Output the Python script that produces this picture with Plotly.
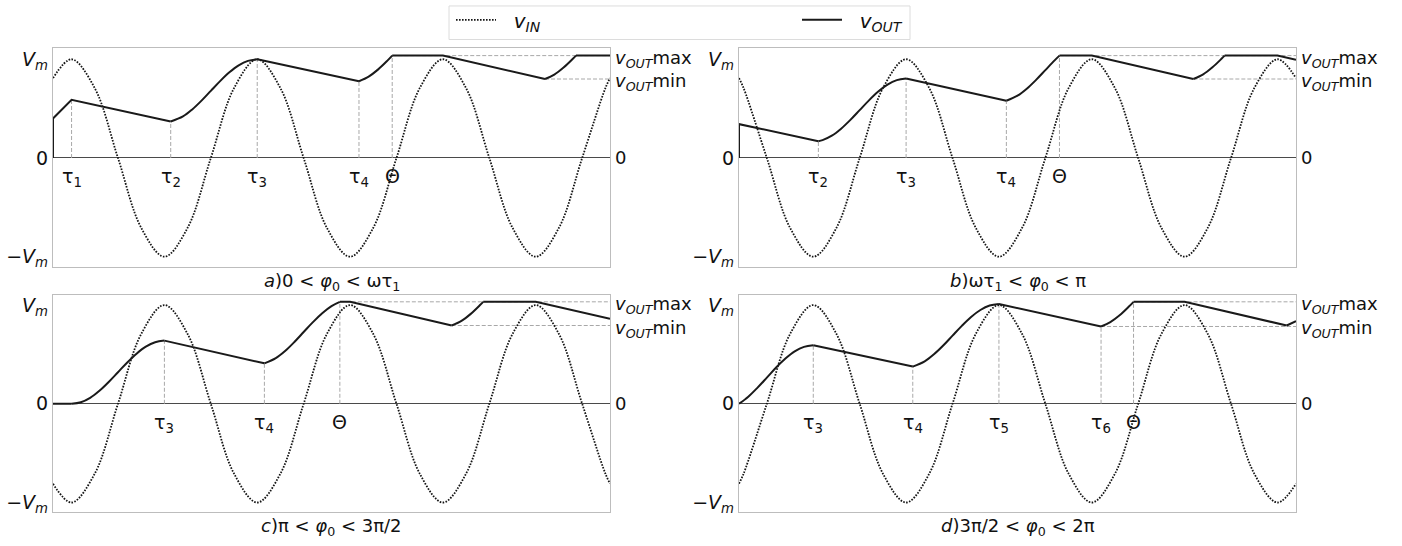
import plotly.graph_objects as go

# x is ωt expressed in units of π rad, y is voltage in units of Vm
X_END = 6.0

# ---------------- v_IN samples (peaks, troughs, zero crossings, half-way points) ----------------
A_IN_X = [0, 0.2, 0.45, 0.7, 0.95, 1.2, 1.45, 1.7, 1.95, 2.2, 2.45, 2.7, 2.95, 3.2, 3.45, 3.7, 3.95,
          4.2, 4.45, 4.7, 4.95, 5.2, 5.45, 5.7, 5.95, 6.0]
A_IN_Y = [0.809, 1, 0.707, 0, -0.707, -1, -0.707, 0, 0.707, 1, 0.707, 0, -0.707, -1, -0.707, 0, 0.707,
          1, 0.707, 0, -0.707, -1, -0.707, 0, 0.707, 0.809]
B_IN_X = [0, 0.05, 0.3, 0.55, 0.8, 1.05, 1.3, 1.55, 1.8, 2.05, 2.3, 2.55, 2.8, 3.05, 3.3, 3.55, 3.8,
          4.05, 4.3, 4.55, 4.8, 5.05, 5.3, 5.55, 5.8, 6.0]
B_IN_Y = [0.809, 0.707, 0, -0.707, -1, -0.707, 0, 0.707, 1, 0.707, 0, -0.707, -1, -0.707, 0, 0.707, 1,
          0.707, 0, -0.707, -1, -0.707, 0, 0.707, 1, 0.809]
C_IN_X = [0, 0.2, 0.45, 0.7, 0.95, 1.2, 1.45, 1.7, 1.95, 2.2, 2.45, 2.7, 2.95, 3.2, 3.45, 3.7, 3.95,
          4.2, 4.45, 4.7, 4.95, 5.2, 5.45, 5.7, 5.95, 6.0]
C_IN_Y = [-0.809, -1, -0.707, 0, 0.707, 1, 0.707, 0, -0.707, -1, -0.707, 0, 0.707, 1, 0.707, 0, -0.707,
          -1, -0.707, 0, 0.707, 1, 0.707, 0, -0.707, -0.809]
D_IN_X = [0, 0.05, 0.3, 0.55, 0.8, 1.05, 1.3, 1.55, 1.8, 2.05, 2.3, 2.55, 2.8, 3.05, 3.3, 3.55, 3.8,
          4.05, 4.3, 4.55, 4.8, 5.05, 5.3, 5.55, 5.8, 6.0]
D_IN_Y = [-0.809, -0.707, 0, 0.707, 1, 0.707, 0, -0.707, -1, -0.707, 0, 0.707, 1, 0.707, 0, -0.707, -1,
          -0.707, 0, 0.707, 1, 0.707, 0, -0.707, -1, -0.809]

# ---------------- v_OUT: straight pieces (decay / flat) ----------------
A_LIN_X = [0, 0, 0.2, 1.268, None, 2.2, 3.296, None, 3.654, 4.2, 5.30, None, 5.633, 6.0]
A_LIN_Y = [0, 0.40, 0.59, 0.37, None, 1.0, 0.777, None, 1.037, 1.037, 0.80, None, 1.037, 1.037]
B_LIN_X = [0, 0, 0.855, None, 1.8, 2.88, None, 3.452, 3.8, 4.894, None, 5.231, 5.8, 6.0]
B_LIN_Y = [0, 0.343, 0.17, None, 0.805, 0.58, None, 1.037, 1.037, 0.80, None, 1.037, 1.037, 0.994]
C_LIN_X = [0, 0.2, None, 1.2, 2.277, None, 3.09, 3.2, 4.295, None, 4.634, 5.2, 6.0]
C_LIN_Y = [0, 0, None, 0.64, 0.41, None, 1.033, 1.033, 0.793, None, 1.033, 1.033, 0.861]
D_LIN_X = [0.8, 1.872, None, 2.8, 3.9, None, 4.25, 4.8, 5.9]
D_LIN_Y = [0.593, 0.377, None, 1.01, 0.783, None, 1.033, 1.033, 0.793]

# ---------------- v_OUT: rising (charging) pieces ----------------
A_RISE_X = [1.268, 1.4, 1.5, 1.6, 1.7, 1.8, 1.9, 2.0, 2.1, 2.2, None,
            3.296, 3.4, 3.5, 3.6, 3.654, None, 5.30, 5.4, 5.5, 5.6, 5.633]
A_RISE_Y = [0.37, 0.421, 0.492, 0.581, 0.68, 0.779, 0.868, 0.939, 0.984, 1.0, None,
            0.777, 0.824, 0.895, 0.984, 1.037, None, 0.80, 0.845, 0.916, 1.005, 1.037]
B_RISE_X = [0.855, 0.9, 1.0, 1.1, 1.2, 1.3, 1.4, 1.5, 1.6, 1.7, 1.8, None,
            2.88, 3.0, 3.1, 3.2, 3.3, 3.4, 3.452, None, 4.894, 5.0, 5.1, 5.2, 5.231]
B_RISE_Y = [0.17, 0.181, 0.226, 0.297, 0.386, 0.485, 0.584, 0.673, 0.744, 0.789, 0.805, None,
            0.58, 0.631, 0.702, 0.791, 0.890, 0.989, 1.037, None, 0.80, 0.847, 0.918, 1.007, 1.037]
C_RISE_X = [0.2, 0.3, 0.4, 0.5, 0.6, 0.7, 0.8, 0.9, 1.0, 1.1, 1.2, None,
            2.277, 2.4, 2.5, 2.6, 2.7, 2.8, 2.9, 3.0, 3.09, None, 4.295, 4.4, 4.5, 4.6, 4.634]
C_RISE_Y = [0, 0.016, 0.061, 0.132, 0.221, 0.32, 0.419, 0.508, 0.579, 0.624, 0.64, None,
            0.41, 0.463, 0.535, 0.626, 0.727, 0.827, 0.918, 0.990, 1.033, None,
            0.793, 0.840, 0.911, 1.0, 1.033]
D_RISE_X = [0, 0.1, 0.2, 0.3, 0.4, 0.5, 0.6, 0.7, 0.8, None,
            1.872, 2.0, 2.1, 2.2, 2.3, 2.4, 2.5, 2.6, 2.7, 2.8, None,
            3.9, 4.0, 4.1, 4.2, 4.25, None, 5.9, 6.0]
D_RISE_Y = [0, 0.072, 0.164, 0.265, 0.367, 0.458, 0.531, 0.577, 0.593, None,
            0.377, 0.430, 0.501, 0.590, 0.690, 0.789, 0.879, 0.950, 0.995, 1.010, None,
            0.783, 0.828, 0.897, 0.985, 1.033, None, 0.793, 0.838]

# ---------------- marked instants (τ, Θ) and their v_OUT values ----------------
A_TAU_X = [0.2, 1.268, 2.2, 3.296, 3.654]
A_TAU_Y = [0.59, 0.37, 1.0, 0.777, 1.037]
A_TAU_TEXT = ["τ<sub>1</sub>", "τ<sub>2</sub>", "τ<sub>3</sub>", "τ<sub>4</sub>", "Θ"]
B_TAU_X = [0.855, 1.8, 2.88, 3.452]
B_TAU_Y = [0.17, 0.805, 0.58, 1.037]
B_TAU_TEXT = ["τ<sub>2</sub>", "τ<sub>3</sub>", "τ<sub>4</sub>", "Θ"]
C_TAU_X = [1.2, 2.277, 3.09]
C_TAU_Y = [0.64, 0.41, 1.033]
C_TAU_TEXT = ["τ<sub>3</sub>", "τ<sub>4</sub>", "Θ"]
D_TAU_X = [0.8, 1.872, 2.8, 3.9, 4.25]
D_TAU_Y = [0.593, 0.377, 1.01, 0.783, 1.033]
D_TAU_TEXT = ["τ<sub>3</sub>", "τ<sub>4</sub>", "τ<sub>5</sub>", "τ<sub>6</sub>", "Θ"]

# v_OUT max / min levels and where their guide lines start
A_VMAX, A_VMAX_X0, A_VMIN, A_VMIN_X0 = 1.037, 3.654, 0.80, 5.30
B_VMAX, B_VMAX_X0, B_VMIN, B_VMIN_X0 = 1.037, 3.452, 0.80, 4.894
C_VMAX, C_VMAX_X0, C_VMIN, C_VMIN_X0 = 1.033, 3.09, 0.793, 4.295
D_VMAX, D_VMAX_X0, D_VMIN, D_VMIN_X0 = 1.033, 4.25, 0.783, 3.9

PANEL_TITLES = [
    "<i>a</i>)0 &lt; <i>φ</i><sub>0</sub> &lt; ωτ<sub>1</sub>",
    "<i>b</i>)ωτ<sub>1</sub> &lt; <i>φ</i><sub>0</sub> &lt; π",
    "<i>c</i>)π &lt; <i>φ</i><sub>0</sub> &lt; 3π/2",
    "<i>d</i>)3π/2 &lt; <i>φ</i><sub>0</sub> &lt; 2π",
]
LEFT_TICKS = [-1, 0, 1]
LEFT_TICK_TEXT = ["−<i>V</i><sub><i>m</i></sub>", "0", "<i>V</i><sub><i>m</i></sub>"]
VMAX_TEXT = "<i>v</i><sub><i>OUT</i></sub>max"
VMIN_TEXT = "<i>v</i><sub><i>OUT</i></sub>min"
VIN_NAME = "&nbsp;&nbsp;<i>v</i><sub><i>IN</i></sub>"
VOUT_NAME = "&nbsp;&nbsp;<i>v</i><sub><i>OUT</i></sub>"

panels = [
    dict(inx=A_IN_X, iny=A_IN_Y, linx=A_LIN_X, liny=A_LIN_Y, rx=A_RISE_X, ry=A_RISE_Y,
         tx=A_TAU_X, ty=A_TAU_Y, tt=A_TAU_TEXT, vmax=A_VMAX, vmax0=A_VMAX_X0, vmin=A_VMIN, vmin0=A_VMIN_X0),
    dict(inx=B_IN_X, iny=B_IN_Y, linx=B_LIN_X, liny=B_LIN_Y, rx=B_RISE_X, ry=B_RISE_Y,
         tx=B_TAU_X, ty=B_TAU_Y, tt=B_TAU_TEXT, vmax=B_VMAX, vmax0=B_VMAX_X0, vmin=B_VMIN, vmin0=B_VMIN_X0),
    dict(inx=C_IN_X, iny=C_IN_Y, linx=C_LIN_X, liny=C_LIN_Y, rx=C_RISE_X, ry=C_RISE_Y,
         tx=C_TAU_X, ty=C_TAU_Y, tt=C_TAU_TEXT, vmax=C_VMAX, vmax0=C_VMAX_X0, vmin=C_VMIN, vmin0=C_VMIN_X0),
    dict(inx=D_IN_X, iny=D_IN_Y, linx=D_LIN_X, liny=D_LIN_Y, rx=D_RISE_X, ry=D_RISE_Y,
         tx=D_TAU_X, ty=D_TAU_Y, tt=D_TAU_TEXT, vmax=D_VMAX, vmax0=D_VMAX_X0, vmin=D_VMIN, vmin0=D_VMIN_X0),
]

W, H = 1402, 546
X_DOMAINS = [[53 / W, 610 / W], [739 / W, 1296 / W], [53 / W, 610 / W], [739 / W, 1296 / W]]
Y_DOMAINS = [[1 - 267 / H, 1 - 46 / H], [1 - 267 / H, 1 - 46 / H],
             [1 - 516 / H, 1 - 296 / H], [1 - 516 / H, 1 - 296 / H]]
Y_RANGES = [[-1.10, 1.11], [-1.10, 1.11], [-1.10, 1.10], [-1.10, 1.10]]

FONT = "DejaVu Sans"
GUIDE = dict(color="#a8a8a8", width=1, dash="4px,2px")
fig = go.Figure()
annotations = []
layout_axes = {}

for i, p in enumerate(panels):
    n = i + 1
    xa = "x" if n == 1 else f"x{n}"
    ya = "y" if n == 1 else f"y{n}"

    gx, gy = [], []
    for t, v in zip(p["tx"], p["ty"]):
        gx += [t, t, None]
        gy += [0, v, None]
    gx += [p["vmax0"], X_END, None, p["vmin0"], X_END]
    gy += [p["vmax"], p["vmax"], None, p["vmin"], p["vmin"]]
    fig.add_trace(go.Scatter(x=gx, y=gy, mode="lines", line=GUIDE, xaxis=xa, yaxis=ya,
                             showlegend=False, hoverinfo="skip"))

    fig.add_trace(go.Scatter(x=p["inx"], y=p["iny"], mode="lines",
                             line=dict(color="#151515", width=1.8, dash="1.6px,1.4px", shape="spline", smoothing=1),
                             name=VIN_NAME, legendgroup="in", legend="legend",
                             showlegend=(n == 1), xaxis=xa, yaxis=ya))
    fig.add_trace(go.Scatter(x=p["linx"], y=p["liny"], mode="lines",
                             line=dict(color="#1a1a1a", width=2),
                             name=VOUT_NAME, legendgroup="out", legend="legend2",
                             showlegend=(n == 1), xaxis=xa, yaxis=ya))
    fig.add_trace(go.Scatter(x=p["rx"], y=p["ry"], mode="lines",
                             line=dict(color="#1a1a1a", width=2, shape="spline", smoothing=1),
                             legendgroup="out", legend="legend2", showlegend=False, xaxis=xa, yaxis=ya))

    layout_axes["xaxis" if n == 1 else f"xaxis{n}"] = dict(
        domain=X_DOMAINS[i], range=[0, X_END], showgrid=False, zeroline=False,
        showticklabels=False, ticks="", showline=True, mirror=True, linecolor="#bdbdbd",
        linewidth=1.3, anchor=ya, fixedrange=True)
    layout_axes["yaxis" if n == 1 else f"yaxis{n}"] = dict(
        domain=Y_DOMAINS[i], range=Y_RANGES[i], showgrid=False, zeroline=True,
        zerolinecolor="#4a4a4a", zerolinewidth=1.4, tickmode="array", tickvals=LEFT_TICKS,
        ticktext=LEFT_TICK_TEXT, ticks="", showline=True, mirror=True, linecolor="#bdbdbd",
        linewidth=1.3, anchor=xa, tickfont=dict(family=FONT, size=19, color="#111"), fixedrange=True)

    for t, txt in zip(p["tx"], p["tt"]):
        annotations.append(dict(x=t, y=0, xref=xa, yref=ya, text=txt, showarrow=False,
                                yanchor="top", yshift=-5, font=dict(family=FONT, size=19, color="#111")))
    for val, txt, ys in [(0, "0", 0), (p["vmax"], VMAX_TEXT, -3), (p["vmin"], VMIN_TEXT, -3)]:
        annotations.append(dict(x=1, y=val, xref=f"{xa} domain", yref=ya, text=txt, showarrow=False,
                                xanchor="left", xshift=3, yshift=ys,
                                font=dict(family=FONT, size=18, color="#111")))
    annotations.append(dict(x=0.5, y=0, xref=f"{xa} domain", yref=f"{ya} domain", text=PANEL_TITLES[i],
                            showarrow=False, yanchor="top", yshift=-1,
                            font=dict(family=FONT, size=18, color="#111")))

LEG = dict(orientation="h", yanchor="middle", y=1 - 17 / H, xanchor="left",
           bgcolor="rgba(0,0,0,0)", borderwidth=0, itemwidth=40,
           font=dict(family=FONT, size=20, color="#111"))

fig.update_layout(
    width=W, height=H, margin=dict(l=0, r=0, t=0, b=0), autosize=False,
    paper_bgcolor="white", plot_bgcolor="white",
    font=dict(family=FONT, size=18, color="#111"),
    annotations=annotations,
    shapes=[dict(type="rect", xref="paper", yref="paper", x0=449 / W, x1=910 / W,
                 y0=1 - 37 / H, y1=1 - 3 / H, line=dict(color="#dcdcdc", width=1), layer="below")],
    legend=dict(LEG, x=451 / W),
    legend2=dict(LEG, x=797 / W),
    **layout_axes,
)

fig.write_html("out.html", config={"displayModeBar": False},
               post_script="document.body.style.margin='0';")
